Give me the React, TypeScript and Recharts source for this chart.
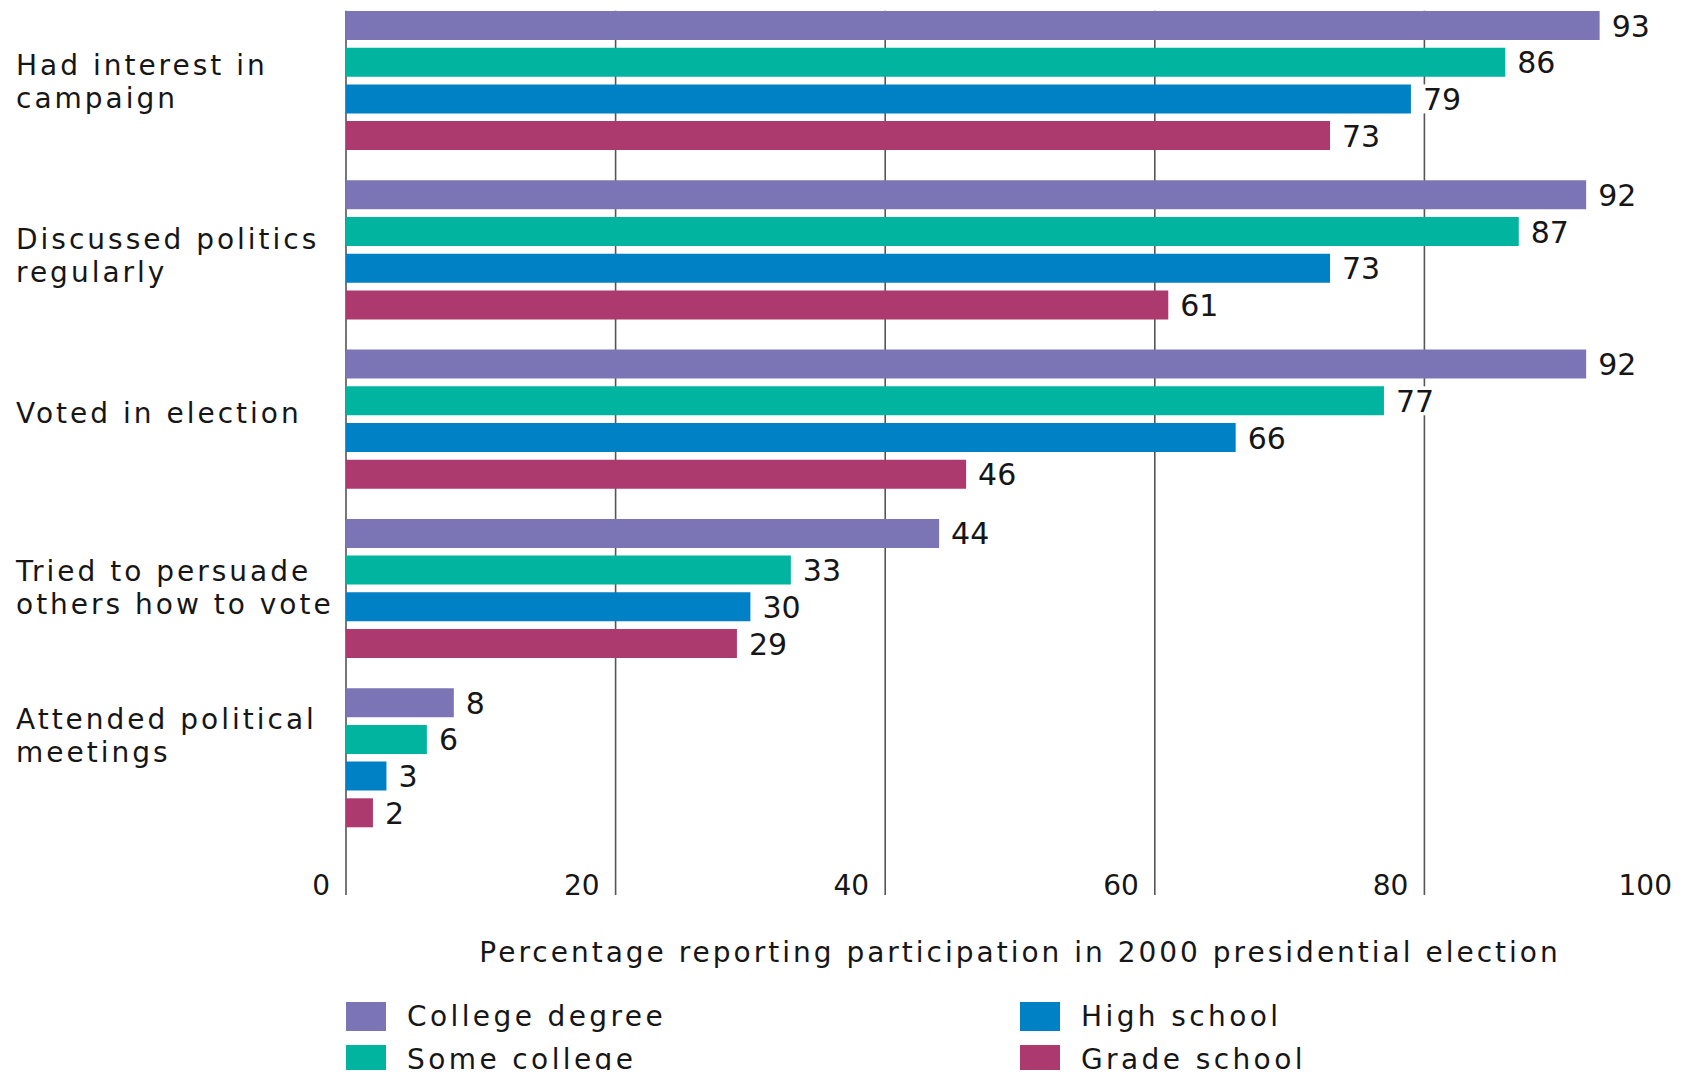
import React from 'react';
import { BarChart, Bar, XAxis, YAxis, CartesianGrid, LabelList, Legend } from 'recharts';

// activities (y categories), top to bottom
const activities = [
  'Had interest in\ncampaign',
  'Discussed politics\nregularly',
  'Voted in election',
  'Tried to persuade\nothers how to vote',
  'Attended political\nmeetings',
];

// percent reporting participation, by education
const collegeDegree = [93, 92, 92, 44, 8];
const someCollege = [86, 87, 77, 33, 6];
const highSchool = [79, 73, 66, 30, 3];
const gradeSchool = [73, 61, 46, 29, 2];

const xTicks = [0, 20, 40, 60, 80, 100];
const xTitle = 'Percentage reporting participation in 2000 presidential election';

const series = [
  { key: 'college', name: 'College degree', color: '#7b75b6' },
  { key: 'some', name: 'Some college', color: '#00b4a0' },
  { key: 'high', name: 'High school', color: '#0081c6' },
  { key: 'grade', name: 'Grade school', color: '#ad3a6f' },
];

const rows = activities.map((activity, i) => ({
  activity,
  college: collegeDegree[i],
  some: someCollege[i],
  high: highSchool[i],
  grade: gradeSchool[i],
}));

const FONT = "'DejaVu Sans', Verdana, sans-serif";
const INK = '#161616';
const SHIFT = 4; // chart is moved up by this many px
// first-line baseline of each y label, relative to the band centre
const labelShift = [-5.7, -1, 3.7, -7.6, -28.9];

const CategoryTick = (props: any) => {
  const { y, payload, index } = props;
  const lines = String(payload.value).split('\n');
  const base = y + labelShift[index ?? 0];
  return (
    <text x={16} y={base} fill={INK} fontFamily={FONT} fontSize={28} letterSpacing={3}>
      {lines.map((ln, i) => (
        <tspan key={i} x={16} y={base + i * 33}>
          {ln}
        </tspan>
      ))}
    </text>
  );
};

const ValueTick = (props: any) => {
  const { x, payload } = props;
  return (
    <text
      x={x - 16}
      y={885 + SHIFT + 10}
      textAnchor='end'
      fill={INK}
      fontFamily={FONT}
      fontSize={28}
    >
      {payload.value}
    </text>
  );
};

const ValueLabel = (props: any) => {
  const { x, y, width, height, value } = props;
  const tx = x + width + 12;
  const w = String(value).length * 19 + 8;
  return (
    <g>
      <rect x={x + width + 1} y={y} width={w + 11} height={height} fill='#fff' />
      <text
        x={tx}
        y={y + height / 2 + 11}
        fill={INK}
        fontFamily={FONT}
        fontSize={30}
      >
        {value}
      </text>
    </g>
  );
};

const AxisTitle = () => (
  <text
    x={1020}
    y={962 + SHIFT}
    textAnchor='middle'
    fill={INK}
    fontFamily={FONT}
    fontSize={28}
    letterSpacing={3}
  >
    {xTitle}
  </text>
);

const GridLine = (props: any) => {
  const { x1, x2 } = props;
  return (
    <line
      key={props.key}
      x1={x1}
      x2={x2}
      y1={10.7 + SHIFT}
      y2={895 + SHIFT}
      stroke='#555'
      strokeWidth={1.6}
    />
  );
};

const LegendBox = () => {
  const spots = [
    { left: 346, top: 1002 },
    { left: 346, top: 1045 },
    { left: 1020, top: 1002 },
    { left: 1020, top: 1045 },
  ];
  return (
    <div style={{ position: 'relative', width: 1700, height: 1082 }}>
      {series.map((s, i) => (
        <div
          key={s.key}
          style={{
            position: 'absolute',
            left: spots[i].left,
            top: spots[i].top + SHIFT,
            height: 29,
            display: 'flex',
            alignItems: 'center',
            whiteSpace: 'nowrap',
          }}
        >
          <span style={{ width: 40, height: 29, background: s.color, display: 'inline-block' }} />
          <span
            style={{
              marginLeft: 21,
              fontFamily: FONT,
              fontSize: 28,
              letterSpacing: 3.4,
              color: INK,
              lineHeight: '29px',
            }}
          >
            {s.name}
          </span>
        </div>
      ))}
    </div>
  );
};

const App = () => {
  return (
    <div
      style={{
        margin: -8,
        width: 1690,
        height: 1078,
        overflow: 'hidden',
        position: 'relative',
        background: '#fff',
      }}
    >
      <div style={{ marginTop: -SHIFT }}>
        <BarChart
          layout='vertical'
          width={1700}
          height={1082}
          data={rows}
          margin={{ top: 0, right: 6, left: 0, bottom: 175.5 }}
          barSize={29}
          barGap={7.7}
        >
          <CartesianGrid horizontal={false} vertical={GridLine} />
          <XAxis
            type='number'
            domain={[0, 100]}
            ticks={xTicks}
            axisLine={false}
            tickLine={false}
            height={60}
            tick={ValueTick}
            label={{ content: AxisTitle } as any}
          />
          <YAxis
            type='category'
            dataKey='activity'
            width={346}
            axisLine={false}
            tickLine={false}
            tick={CategoryTick}
            interval={0}
          />
          <Legend
            layout='horizontal'
            verticalAlign='middle'
            align='center'
            wrapperStyle={{ position: 'absolute', left: 0, top: 0, width: 1700, height: 1082 }}
            content={() => <LegendBox />}
          />
          {series.map((s) => (
            <Bar key={s.key} dataKey={s.key} name={s.name} fill={s.color} isAnimationActive={false}>
              <LabelList dataKey={s.key} content={ValueLabel} />
            </Bar>
          ))}
        </BarChart>
      </div>
    </div>
  );
};

export default App;
